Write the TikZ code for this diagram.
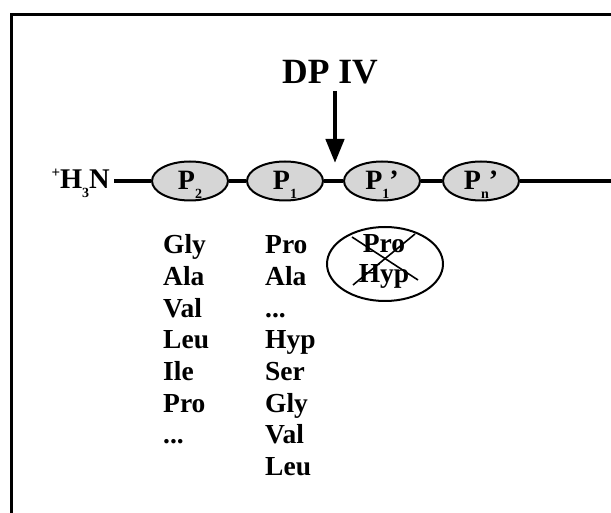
\documentclass[tikz,border=0pt]{standalone}
\usepackage{fontspec}
\setmainfont{Liberation Serif}
\usetikzlibrary{shapes.geometric,arrows.meta}
\newcommand{\lowsub}[1]{\raisebox{-0.3em}{\fontsize{14}{14}\selectfont #1}}
\newcommand{\highsup}[1]{\raisebox{0.4em}{\fontsize{15}{15}\selectfont #1}}
\newcommand{\tdots}{...}
\tikzset{
  residue/.style={ellipse, draw, line width=2pt, fill=gray!32, minimum width=76pt, minimum height=39pt, inner sep=0pt,
    font=\fontsize{28}{28}\selectfont\bfseries, text height=18pt, text depth=0pt},
  chain/.style={line width=3.5pt},
  aa/.style={anchor=base west, inner sep=0pt, font=\fontsize{27.5}{27.5}\selectfont\bfseries},
  aac/.style={anchor=base, inner sep=0pt, font=\fontsize{27.5}{27.5}\selectfont\bfseries},
}
\begin{document}
\begin{tikzpicture}[x=1pt,y=-1pt]
\useasboundingbox (0,0) rectangle (611,513);
\draw[line width=3pt] (11,515) -- (11,15) -- (613,15);

\node[inner sep=0pt, anchor=base, font=\fontsize{35.5}{35.5}\selectfont\bfseries] (dp) at (330,84) {DP IV};
\coordinate (atop) at (335,91);
\coordinate (cut) at (335,163);
\draw[line width=4.5pt, -{Triangle[length=24pt,width=18pt]}] (atop) -- (cut);

\node[inner sep=0pt, anchor=base east, font=\fontsize{28.5}{28.5}\selectfont\bfseries] (h3n) at (110,189) {\highsup{+}H\lowsub{3}N};
\node[residue] (p2) at (190,181) {P\lowsub{2}};
\node[residue] (p1) at (285,181) {P\lowsub{1}};
\node[residue] (p1p) at (382,181) {P\lowsub{1}’};
\node[residue] (pnp) at (481,181) {P\lowsub{n}’};
\coordinate (rend) at (613,181);
\draw[chain] ([xshift=4pt]h3n.east |- p2.west) -- (p2.west);
\draw[chain] (p2.east) -- (p1.west);
\draw[chain] (p1.east) -- (p1p.west);
\draw[chain] (p1p.east) -- (pnp.west);
\draw[chain] (pnp.east) -- (rend);

\foreach \t [count=\i] in {Gly,Ala,Val,Leu,Ile,Pro,\tdots}
  \node[aa] (a\i) at (163,{254+31.6*(\i-1)}) {\t};
\foreach \t [count=\i] in {Pro,Ala,\tdots,Hyp,Ser,Gly,Val,Leu}
  \node[aa] (b\i) at (265,{254+31.6*(\i-1)}) {\t};

\node[ellipse, draw, line width=2pt, minimum width=116pt, minimum height=74pt] (excl) at (385,264) {};
\node[aac] (xpro) at (384,253) {Pro};
\node[aac] (xhyp) at (384,283) {Hyp};
\coordinate (x1) at (352,237);
\coordinate (x2) at (418,280);
\coordinate (x3) at (415,234);
\coordinate (x4) at (353,285);
\draw[line width=1.6pt] (x1) -- (x2);
\draw[line width=1.6pt] (x3) -- (x4);
\end{tikzpicture}
\end{document}
